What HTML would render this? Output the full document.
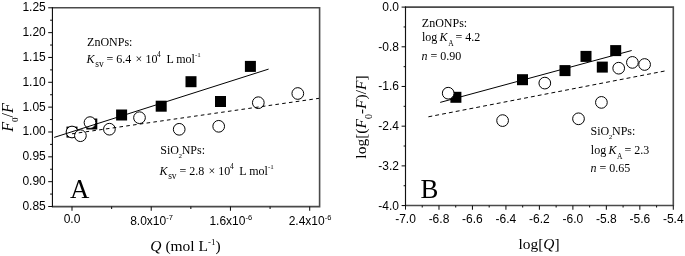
<!DOCTYPE html>
<html><head><meta charset="utf-8"><title>Fluorescence quenching plots</title>
<style>html,body{margin:0;padding:0;background:#fff;width:685px;height:256px;overflow:hidden}svg{display:block}</style>
</head><body>
<svg width="685" height="256" viewBox="0 0 685 256"><g stroke="#111" fill="none" stroke-linecap="square">
<path d="M51.85,7.80H319.60V206.60H51.85" stroke="#4a4a4a" stroke-width="1.6" stroke-linecap="butt"/>
<line x1="52.45" y1="7.30" x2="52.45" y2="207.10" stroke-width="1.15" stroke-linecap="butt"/>
</g><g stroke="#111" fill="none" stroke-width="1.05">
<line x1="48.20" y1="206.50" x2="52.45" y2="206.50" stroke-width="1.05" />
<line x1="48.20" y1="181.66" x2="52.45" y2="181.66" stroke-width="1.05" />
<line x1="48.20" y1="156.82" x2="52.45" y2="156.82" stroke-width="1.05" />
<line x1="48.20" y1="131.98" x2="52.45" y2="131.98" stroke-width="1.05" />
<line x1="48.20" y1="107.14" x2="52.45" y2="107.14" stroke-width="1.05" />
<line x1="48.20" y1="82.30" x2="52.45" y2="82.30" stroke-width="1.05" />
<line x1="48.20" y1="57.46" x2="52.45" y2="57.46" stroke-width="1.05" />
<line x1="48.20" y1="32.62" x2="52.45" y2="32.62" stroke-width="1.05" />
<line x1="48.20" y1="7.78" x2="52.45" y2="7.78" stroke-width="1.05" />
<line x1="50.10" y1="194.08" x2="52.45" y2="194.08" stroke-width="1.05" />
<line x1="50.10" y1="169.24" x2="52.45" y2="169.24" stroke-width="1.05" />
<line x1="50.10" y1="144.40" x2="52.45" y2="144.40" stroke-width="1.05" />
<line x1="50.10" y1="119.56" x2="52.45" y2="119.56" stroke-width="1.05" />
<line x1="50.10" y1="94.72" x2="52.45" y2="94.72" stroke-width="1.05" />
<line x1="50.10" y1="69.88" x2="52.45" y2="69.88" stroke-width="1.05" />
<line x1="50.10" y1="45.04" x2="52.45" y2="45.04" stroke-width="1.05" />
<line x1="50.10" y1="20.20" x2="52.45" y2="20.20" stroke-width="1.05" />
<line x1="72.00" y1="206.60" x2="72.00" y2="210.70" stroke-width="1.05" />
<line x1="151.23" y1="206.60" x2="151.23" y2="210.70" stroke-width="1.05" />
<line x1="230.46" y1="206.60" x2="230.46" y2="210.70" stroke-width="1.05" />
<line x1="309.69" y1="206.60" x2="309.69" y2="210.70" stroke-width="1.05" />
<line x1="111.62" y1="206.60" x2="111.62" y2="208.90" stroke-width="1.05" />
<line x1="190.84" y1="206.60" x2="190.84" y2="208.90" stroke-width="1.05" />
<line x1="270.08" y1="206.60" x2="270.08" y2="208.90" stroke-width="1.05" />
</g>
<g stroke="#111" fill="none" stroke-linecap="square">
<path d="M404.90,7.10H673.30V205.55H404.90" stroke="#4a4a4a" stroke-width="1.6" stroke-linecap="butt"/>
<line x1="405.5" y1="6.60" x2="405.5" y2="206.05" stroke-width="1.15" stroke-linecap="butt"/>
</g><g stroke="#111" fill="none">
<line x1="401.60" y1="7.10" x2="405.50" y2="7.10" stroke-width="1.05" />
<line x1="401.60" y1="46.79" x2="405.50" y2="46.79" stroke-width="1.05" />
<line x1="401.60" y1="86.48" x2="405.50" y2="86.48" stroke-width="1.05" />
<line x1="401.60" y1="126.17" x2="405.50" y2="126.17" stroke-width="1.05" />
<line x1="401.60" y1="165.86" x2="405.50" y2="165.86" stroke-width="1.05" />
<line x1="401.60" y1="205.55" x2="405.50" y2="205.55" stroke-width="1.05" />
<line x1="403.60" y1="26.95" x2="405.50" y2="26.95" stroke-width="1.05" />
<line x1="403.60" y1="66.64" x2="405.50" y2="66.64" stroke-width="1.05" />
<line x1="403.60" y1="106.33" x2="405.50" y2="106.33" stroke-width="1.05" />
<line x1="403.60" y1="146.02" x2="405.50" y2="146.02" stroke-width="1.05" />
<line x1="403.60" y1="185.71" x2="405.50" y2="185.71" stroke-width="1.05" />
<line x1="405.50" y1="205.55" x2="405.50" y2="209.65" stroke-width="1.05" />
<line x1="438.98" y1="205.55" x2="438.98" y2="209.65" stroke-width="1.05" />
<line x1="472.45" y1="205.55" x2="472.45" y2="209.65" stroke-width="1.05" />
<line x1="505.92" y1="205.55" x2="505.92" y2="209.65" stroke-width="1.05" />
<line x1="539.40" y1="205.55" x2="539.40" y2="209.65" stroke-width="1.05" />
<line x1="572.88" y1="205.55" x2="572.88" y2="209.65" stroke-width="1.05" />
<line x1="606.35" y1="205.55" x2="606.35" y2="209.65" stroke-width="1.05" />
<line x1="639.83" y1="205.55" x2="639.83" y2="209.65" stroke-width="1.05" />
<line x1="673.30" y1="205.55" x2="673.30" y2="209.65" stroke-width="1.05" />
<line x1="422.24" y1="205.55" x2="422.24" y2="207.45" stroke-width="1.05" />
<line x1="455.71" y1="205.55" x2="455.71" y2="207.45" stroke-width="1.05" />
<line x1="489.19" y1="205.55" x2="489.19" y2="207.45" stroke-width="1.05" />
<line x1="522.66" y1="205.55" x2="522.66" y2="207.45" stroke-width="1.05" />
<line x1="556.14" y1="205.55" x2="556.14" y2="207.45" stroke-width="1.05" />
<line x1="589.61" y1="205.55" x2="589.61" y2="207.45" stroke-width="1.05" />
<line x1="623.09" y1="205.55" x2="623.09" y2="207.45" stroke-width="1.05" />
<line x1="656.56" y1="205.55" x2="656.56" y2="207.45" stroke-width="1.05" />
</g>
<g fill="#000" stroke="none">
<rect x="66.50" y="126.60" width="11" height="11"/>
<rect x="86.30" y="118.50" width="11" height="11"/>
<rect x="116.10" y="109.50" width="11" height="11"/>
<rect x="155.70" y="100.70" width="11" height="11"/>
<rect x="185.50" y="76.20" width="11" height="11"/>
<rect x="215.00" y="96.00" width="11" height="11"/>
<rect x="244.90" y="60.90" width="11" height="11"/>
<rect x="450.40" y="91.80" width="11" height="11"/>
<rect x="517.00" y="74.20" width="11" height="11"/>
<rect x="559.50" y="65.10" width="11" height="11"/>
<rect x="580.50" y="50.90" width="11" height="11"/>
<rect x="596.80" y="61.60" width="11" height="11"/>
<rect x="610.20" y="45.10" width="11" height="11"/>
</g>
<g fill="#fff" stroke="#000" stroke-width="1.0">
<circle cx="72.00" cy="132.00" r="5.85"/>
<circle cx="80.40" cy="135.70" r="5.85"/>
<circle cx="90.00" cy="122.60" r="5.85"/>
<circle cx="109.40" cy="129.20" r="5.85"/>
<circle cx="139.50" cy="117.70" r="5.85"/>
<circle cx="179.20" cy="129.30" r="5.85"/>
<circle cx="218.70" cy="126.30" r="5.85"/>
<circle cx="258.30" cy="102.70" r="5.85"/>
<circle cx="297.80" cy="93.50" r="5.85"/>
<circle cx="448.20" cy="93.20" r="5.85"/>
<circle cx="502.60" cy="120.60" r="5.85"/>
<circle cx="544.80" cy="83.10" r="5.85"/>
<circle cx="578.50" cy="118.80" r="5.85"/>
<circle cx="601.40" cy="102.40" r="5.85"/>
<circle cx="618.70" cy="68.20" r="5.85"/>
<circle cx="632.40" cy="62.40" r="5.85"/>
<circle cx="644.60" cy="64.50" r="5.85"/>
</g>
<g stroke="#000" fill="none" stroke-width="1">
<line x1="54.20" y1="137.40" x2="268.60" y2="69.10" stroke-width="1" />
<line x1="69.00" y1="134.23" x2="319.00" y2="98.33" stroke-width="1" stroke-dasharray="3.6 3.25" stroke-dashoffset="3.84"/>
<line x1="440.20" y1="102.40" x2="631.70" y2="50.50" stroke-width="1" />
<line x1="428.40" y1="116.80" x2="665.60" y2="70.85" stroke-width="1" stroke-dasharray="3.9 3.06"/>
</g>
<g fill="#000"><text x="45.80" y="209.90" font-size="12" font-family='"Liberation Sans", Arial, sans-serif' text-anchor="end" >0.85</text>
<text x="45.80" y="185.06" font-size="12" font-family='"Liberation Sans", Arial, sans-serif' text-anchor="end" >0.90</text>
<text x="45.80" y="160.22" font-size="12" font-family='"Liberation Sans", Arial, sans-serif' text-anchor="end" >0.95</text>
<text x="45.80" y="135.38" font-size="12" font-family='"Liberation Sans", Arial, sans-serif' text-anchor="end" >1.00</text>
<text x="45.80" y="110.54" font-size="12" font-family='"Liberation Sans", Arial, sans-serif' text-anchor="end" >1.05</text>
<text x="45.80" y="85.70" font-size="12" font-family='"Liberation Sans", Arial, sans-serif' text-anchor="end" >1.10</text>
<text x="45.80" y="60.86" font-size="12" font-family='"Liberation Sans", Arial, sans-serif' text-anchor="end" >1.15</text>
<text x="45.80" y="36.02" font-size="12" font-family='"Liberation Sans", Arial, sans-serif' text-anchor="end" >1.20</text>
<text x="45.80" y="11.18" font-size="12" font-family='"Liberation Sans", Arial, sans-serif' text-anchor="end" >1.25</text>
<text x="72.00" y="222.80" font-size="12" font-family='"Liberation Sans", Arial, sans-serif' text-anchor="middle" >0.0</text>
<text x="151.53" y="224.8" font-size="12" font-family='"Liberation Sans", Arial, sans-serif' text-anchor="middle">8.0x10<tspan font-size="7.5" dy="-5.2">-7</tspan></text>
<text x="230.76" y="224.8" font-size="12" font-family='"Liberation Sans", Arial, sans-serif' text-anchor="middle">1.6x10<tspan font-size="7.5" dy="-5.2">-6</tspan></text>
<text x="309.99" y="224.8" font-size="12" font-family='"Liberation Sans", Arial, sans-serif' text-anchor="middle">2.4x10<tspan font-size="7.5" dy="-5.2">-6</tspan></text>
<text x="399.00" y="11.10" font-size="12" font-family='"Liberation Sans", Arial, sans-serif' text-anchor="end" >0.0</text>
<text x="399.00" y="50.79" font-size="12" font-family='"Liberation Sans", Arial, sans-serif' text-anchor="end" >-0.8</text>
<text x="399.00" y="90.48" font-size="12" font-family='"Liberation Sans", Arial, sans-serif' text-anchor="end" >-1.6</text>
<text x="399.00" y="130.17" font-size="12" font-family='"Liberation Sans", Arial, sans-serif' text-anchor="end" >-2.4</text>
<text x="399.00" y="169.86" font-size="12" font-family='"Liberation Sans", Arial, sans-serif' text-anchor="end" >-3.2</text>
<text x="399.00" y="209.55" font-size="12" font-family='"Liberation Sans", Arial, sans-serif' text-anchor="end" >-4.0</text>
<text x="405.50" y="222.60" font-size="12" font-family='"Liberation Sans", Arial, sans-serif' text-anchor="middle" >-7.0</text>
<text x="438.98" y="222.60" font-size="12" font-family='"Liberation Sans", Arial, sans-serif' text-anchor="middle" >-6.8</text>
<text x="472.45" y="222.60" font-size="12" font-family='"Liberation Sans", Arial, sans-serif' text-anchor="middle" >-6.6</text>
<text x="505.92" y="222.60" font-size="12" font-family='"Liberation Sans", Arial, sans-serif' text-anchor="middle" >-6.4</text>
<text x="539.40" y="222.60" font-size="12" font-family='"Liberation Sans", Arial, sans-serif' text-anchor="middle" >-6.2</text>
<text x="572.88" y="222.60" font-size="12" font-family='"Liberation Sans", Arial, sans-serif' text-anchor="middle" >-6.0</text>
<text x="606.35" y="222.60" font-size="12" font-family='"Liberation Sans", Arial, sans-serif' text-anchor="middle" >-5.8</text>
<text x="639.83" y="222.60" font-size="12" font-family='"Liberation Sans", Arial, sans-serif' text-anchor="middle" >-5.6</text>
<text x="673.30" y="222.60" font-size="12" font-family='"Liberation Sans", Arial, sans-serif' text-anchor="middle" >-5.4</text>
<text x="185.5" y="251" font-size="15.5" font-family='"Liberation Serif", "Times New Roman", serif' text-anchor="middle"><tspan font-style="italic">Q</tspan> (mol L<tspan font-size="9" dy="-6">-1</tspan><tspan dy="6">)</tspan></text>
<text x="539" y="249.1" font-size="15.4" font-family='"Liberation Serif", "Times New Roman", serif' text-anchor="middle">log[<tspan font-style="italic">Q</tspan>]</text>
<text transform="translate(12.7,117.5) rotate(-90)" font-size="16" font-family='"Liberation Serif", "Times New Roman", serif' text-anchor="middle"><tspan font-style="italic">F</tspan><tspan font-size="9" dy="5.6">0</tspan><tspan dy="-5.6">/</tspan><tspan font-style="italic">F</tspan></text>
<text transform="translate(365.5,117) rotate(-90)" font-size="15.5" font-family='"Liberation Serif", "Times New Roman", serif' text-anchor="middle">log[(<tspan font-style="italic">F</tspan><tspan font-size="10" dy="6">0</tspan><tspan dy="-6">-</tspan><tspan font-style="italic">F</tspan>)/<tspan font-style="italic">F</tspan>]</text>
<text x="87.10" y="45.90" font-size="12" font-family='"Liberation Serif", "Times New Roman", serif' text-anchor="start" >ZnONPs:</text>
<text y="62.5" font-size="12" font-family='"Liberation Serif", "Times New Roman", serif'><tspan x="86.60" font-style="italic">K</tspan><tspan x="95.20" y="66.7" font-size="9.5">sv</tspan><tspan x="106.60" y="62.5">= 6.4</tspan><tspan x="135.60">×</tspan><tspan x="145.40">10</tspan><tspan x="157.00" y="56.7" font-size="7.5">4</tspan><tspan x="166.40" y="62.5">L mol</tspan><tspan x="195.00" y="56.9" font-size="7">-1</tspan></text>
<text y="153.9" font-size="12" font-family='"Liberation Serif", "Times New Roman", serif'><tspan x="160.30">SiO</tspan><tspan x="178.40" y="157.9" font-size="7">2</tspan><tspan x="181.70" y="153.9">NPs:</tspan></text>
<text y="174.7" font-size="12" font-family='"Liberation Serif", "Times New Roman", serif'><tspan x="159.55" font-style="italic">K</tspan><tspan x="168.15" y="178.89999999999998" font-size="9.5">sv</tspan><tspan x="179.55" y="174.7">= 2.8</tspan><tspan x="208.55">×</tspan><tspan x="218.35">10</tspan><tspan x="229.95" y="168.89999999999998" font-size="7.5">4</tspan><tspan x="239.35" y="174.7">L mol</tspan><tspan x="267.95" y="169.1" font-size="7">-1</tspan></text>
<text x="70.00" y="197.50" font-size="26.8" font-family='"Liberation Serif", "Times New Roman", serif' text-anchor="start" >A</text>
<text x="420.50" y="197.50" font-size="26.8" font-family='"Liberation Serif", "Times New Roman", serif' text-anchor="start" >B</text>
<text x="421.80" y="26.70" font-size="12" font-family='"Liberation Serif", "Times New Roman", serif' text-anchor="start" >ZnONPs:</text>
<text y="40.6" font-size="12" font-family='"Liberation Serif", "Times New Roman", serif'><tspan x="422.00">log</tspan><tspan x="439.60" font-style="italic">K</tspan><tspan x="448.30" y="45.6" font-size="7.5">A</tspan><tspan x="455.60" y="40.6">= 4.2</tspan></text>
<text x="421.60" y="59.6" font-size="12" font-family='"Liberation Serif", "Times New Roman", serif'><tspan font-style="italic">n</tspan> = 0.90</text>
<text y="135.4" font-size="12" font-family='"Liberation Serif", "Times New Roman", serif'><tspan x="590.60">SiO</tspan><tspan x="608.70" y="139.4" font-size="7">2</tspan><tspan x="612.00" y="135.4">NPs:</tspan></text>
<text y="154.1" font-size="12" font-family='"Liberation Serif", "Times New Roman", serif'><tspan x="590.80">log</tspan><tspan x="608.40" font-style="italic">K</tspan><tspan x="617.10" y="159.1" font-size="7.5">A</tspan><tspan x="624.40" y="154.1">= 2.3</tspan></text>
<text x="590.50" y="171.6" font-size="12" font-family='"Liberation Serif", "Times New Roman", serif'><tspan font-style="italic">n</tspan> = 0.65</text></g></svg>
</body></html>
